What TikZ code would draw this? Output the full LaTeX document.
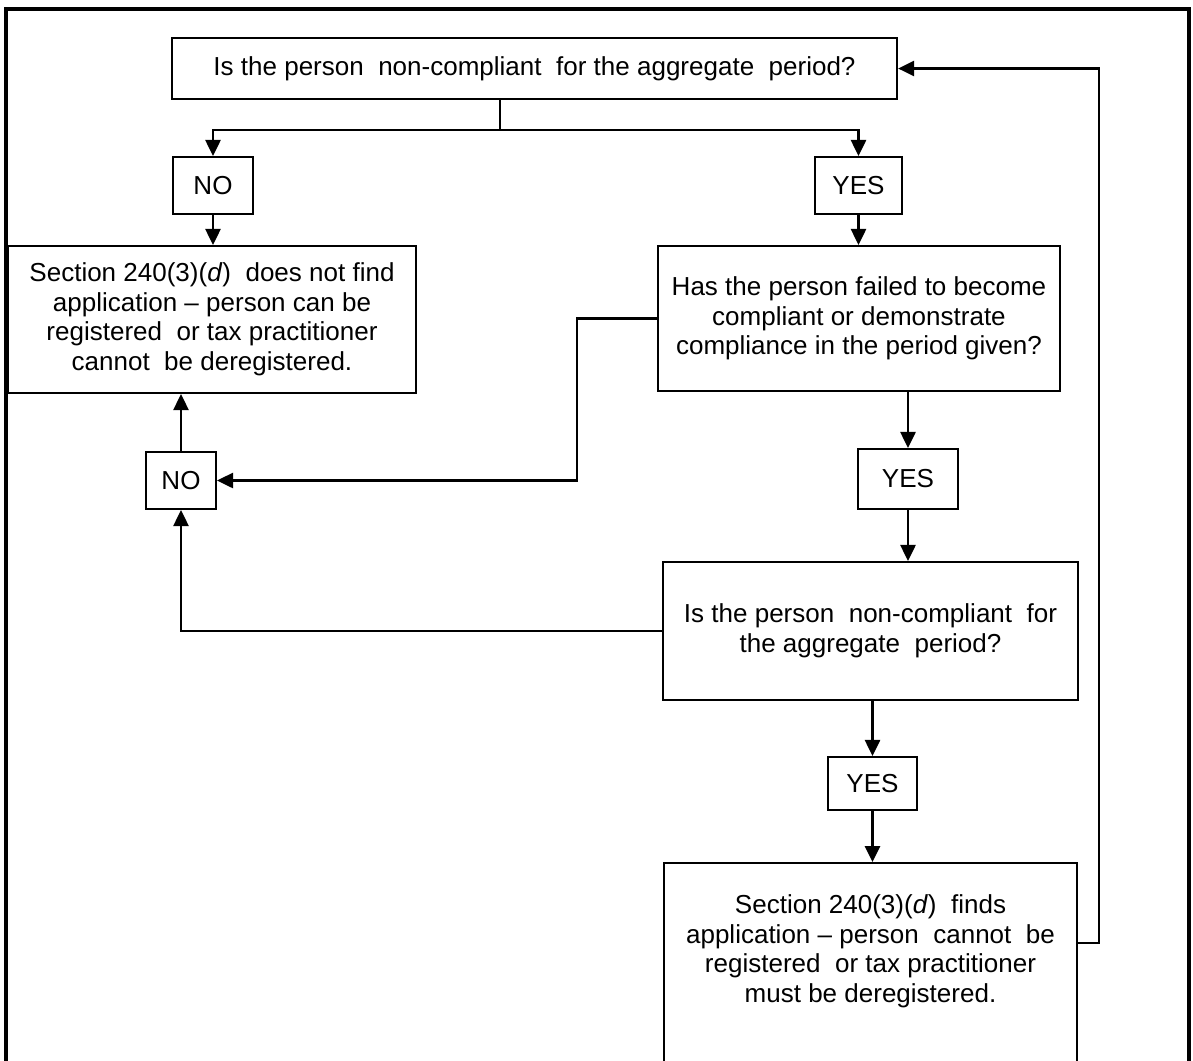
\documentclass[tikz,border=0pt]{standalone}
\usepackage{fontspec}
\setmainfont{Liberation Sans}
\usetikzlibrary{arrows.meta}
\tikzset{
  box/.style={draw, line width=1.5pt, inner sep=0pt, align=center,
    font=\fontsize{18.5}{21}\selectfont},
  link/.style={line width=1.5pt},
  arr/.style={link, -{Triangle[length=0.4cm,width=0.38cm]}},
  outerframe/.style={line width=2.4pt}
}
\begin{document}
\begin{tikzpicture}[x=0.025cm,y=-0.025cm]
\useasboundingbox (0,0) rectangle (1193,1061);
\clip (0,0) rectangle (1193,1061);

% Outer frame
\draw[outerframe] (6,9) rectangle (1189,1090);

% First question
\node[box, minimum width=18.125cm, minimum height=1.525cm] (q1) at (534.5,68.5)
  {Is the person\ \ non-compliant\ \ for the aggregate\ \ period?};

% Answers to the first question
\node[box, minimum width=2cm, minimum height=1.425cm] (no1) at (213,185.5) {NO};
\node[box, minimum width=2.175cm, minimum height=1.425cm] (yes1) at (858.5,185.5) {YES};

% Section does not apply
\node[box, minimum width=10.2cm, minimum height=3.675cm] (notapp) at (212,319.5)
  {Section 240(3)(\textit{d})\ \ does not find\\application – person can be\\registered\ \ or tax practitioner\\cannot\ \ be deregistered.};

% Second question
\node[box, minimum width=10.05cm, minimum height=3.625cm] (q2) at (859,318.5)
  {Has the person failed to become\\compliant or demonstrate\\compliance in the period given?};

% Second NO and YES
\node[box, minimum width=1.75cm, minimum height=1.425cm] (no2) at (181,480.5) {NO};
\node[box, minimum width=2.5cm, minimum height=1.5cm] (yes2) at (908,479) {YES};

% Third question
\node[box, minimum width=10.375cm, minimum height=3.45cm] (q3) at (870.5,631)
  {Is the person\ \ non-compliant\ \ for\\the aggregate\ \ period?};

% Third YES
\node[box, minimum width=2.225cm, minimum height=1.325cm] (yes3) at (872.5,783.5) {YES};

% Section applies
\node[box, anchor=north, minimum width=10.325cm, inner ysep=0.8cm, text depth=5cm] (fin) at (870.5,862)
  {Section 240(3)(\textit{d})\ \ finds\\application – person\ \ cannot\ \ be\\registered\ \ or tax practitioner\\must be deregistered.};

% Bend points
\coordinate (split) at (500,130);
\coordinate (bend) at (577,0);
\coordinate (back) at (1099,943);

% Branching of the first question
\draw[link] (split |- q1.south) -- (split);
\draw[arr] (split) -| (no1.north);
\draw[arr] (split) -| (yes1.north);
\draw[arr] (no1.south) -- (no1.south |- notapp.north);
\draw[arr] (yes1.south) -- (yes1.south |- q2.north);

% Second question to NO and YES
\draw[arr] (q2.west) -- (q2.west -| bend) |- (no2.east);
\draw[arr] (no2.north) -- (no2.north |- notapp.south);
\draw[arr] (yes2.north |- q2.south) -- (yes2.north);
\draw[arr] (yes2.south) -- (yes2.south |- q3.north);

% Third question to NO and YES
\draw[arr] (q3.west) -| (no2.south);
\draw[arr] (yes3.north |- q3.south) -- (yes3.north);
\draw[arr] (yes3.south) -- (yes3.south |- fin.north);

% Back to the top
\draw[arr] (fin.east |- back) -- (back) |- (q1.east);
\end{tikzpicture}
\end{document}
